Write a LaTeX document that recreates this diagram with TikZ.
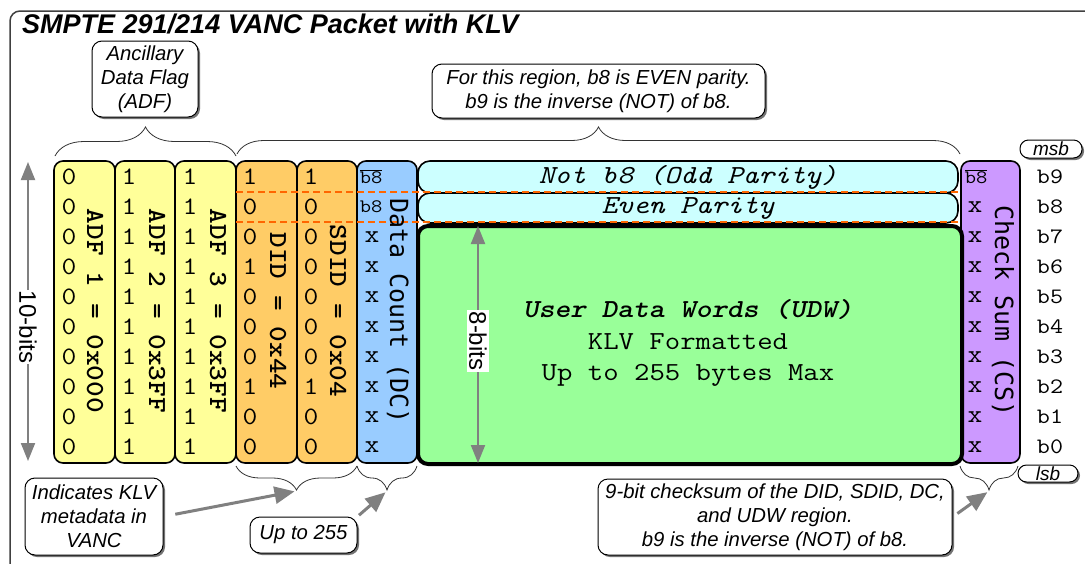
\documentclass[tikz,border=0pt]{standalone}
\usepackage{fontspec}
\setmainfont{Liberation Sans}
\newfontfamily\dvmono{DejaVu Sans Mono}
\usetikzlibrary{arrows.meta,decorations.pathreplacing,shadows}
\definecolor{cyel}{HTML}{FFFF99}
\definecolor{corg}{HTML}{FFCC66}
\definecolor{cblu}{HTML}{99CCFF}
\definecolor{ccyn}{HTML}{CCFFFF}
\definecolor{cgrn}{HTML}{99FF99}
\definecolor{cpur}{HTML}{CC99FF}
\definecolor{cdash}{HTML}{FF6600}
\definecolor{carr}{HTML}{808080}
\newcommand\ovl[1]{$\overline{\hbox{#1}}$}
\newcommand\cw[1]{\scalebox{1.15}[1]{#1}}
\begin{document}
\begin{tikzpicture}[x=1pt,y=-1pt,
  colbox/.style={draw=black,line width=1.6pt,rounded corners=9pt,minimum height=302pt,inner sep=0pt},
  barbox/.style={draw=black,line width=1.6pt,fill=ccyn,rounded corners=12pt,minimum width=540pt,inner sep=0pt},
  bit/.style={inner sep=0pt,font=\ttfamily\fontsize{25}{25}\selectfont},
  sbit/.style={inner sep=0pt,font=\ttfamily\fontsize{19}{19}\selectfont},
  collabel/.style={inner sep=0pt,rotate=-90,font=\ttfamily\bfseries\fontsize{26}{26}\selectfont},
  sanslabel/.style={inner sep=0pt,rotate=-90,font=\dvmono\fontsize{25}{25}\selectfont},
  callout/.style={draw=black,line width=1pt,fill=white,rounded corners=10pt,align=center,inner sep=0pt,
    font=\itshape\fontsize{20.3}{24}\selectfont,
    drop shadow={shadow xshift=2pt,shadow yshift=-2pt,fill=black!55,opacity=1}},
  pill/.style={draw=black,line width=1pt,fill=white,rounded corners=8.5pt,inner sep=0pt,
    font=\itshape\fontsize{19}{19}\selectfont,
    drop shadow={shadow xshift=2pt,shadow yshift=-2pt,fill=black!55,opacity=1}},
  bracel/.style={draw=black!80,line width=0.8pt,decorate},
  garrow/.style={draw=carr,line width=3pt,-{Triangle[length=20pt,width=17pt]}},
  gline/.style={draw=carr,line width=2pt,{Triangle[length=18pt,width=14pt]}-{Triangle[length=18pt,width=14pt]}},
  odash/.style={draw=cdash,line width=2pt,dash pattern=on 7pt off 4pt},
  mtext/.style={inner sep=0pt,font=\ttfamily\fontsize{26}{26}\selectfont}
]
\useasboundingbox (0,0) rectangle (1085,563);
\fill[white] (0,0) rectangle (1085,563);
\begin{scope}
\clip (0,0) rectangle (1085,563);
\draw[line width=1.5pt,draw=black!75,rounded corners=10pt] (10,11) rectangle (1110,580);
\end{scope}

% title
\node[anchor=west,inner sep=0pt,font=\bfseries\itshape\fontsize{27}{30}\selectfont] (title) at (22,24) {SMPTE 291/214 VANC Packet with KLV};

% columns
\node[colbox,fill=cyel,minimum width=61pt] (adf1) at (84.5,312) {};
\node[colbox,fill=cyel,minimum width=60pt] (adf2) at (145,312) {};
\node[colbox,fill=cyel,minimum width=61pt] (adf3) at (205.5,312) {};
\node[colbox,fill=corg,minimum width=61pt] (did) at (266.5,312) {};
\node[colbox,fill=corg,minimum width=60pt] (sdid) at (327,312) {};
\node[colbox,fill=cblu,minimum width=60pt] (dc) at (387,312) {};
\node[colbox,fill=cpur,minimum width=59pt] (cs) at (990.5,312) {};

% UDW area
\node[draw=black,line width=4pt,fill=cgrn,rounded corners=10pt,minimum width=544pt,minimum height=238pt,inner sep=0pt] (udw) at (690,345) {};
\node[barbox,minimum height=32pt] (notb8) at (688,177) {};
\node[barbox,minimum height=30pt] (even) at (688,208) {};
\node[mtext,font=\ttfamily\itshape\fontsize{26}{26}\selectfont] (notb8t) at (688,177) {\cw{Not b8 (Odd Parity)}};
\node[mtext,font=\ttfamily\itshape\fontsize{26}{26}\selectfont] (event) at (688,208) {\cw{Even Parity}};

% dashed parity lines
\coordinate (d1a) at (236,192);
\coordinate (d1b) at (960,192);
\coordinate (d2a) at (236,222);
\coordinate (d2b) at (960,222);
\draw[odash] (d1a) -- (d1b);
\draw[odash] (d2a) -- (d2b);

% bits
\foreach \v [count=\i from 0] in {0,0,0,0,0,0,0,0,0,0}
  \node[bit] (ba\i) at (69,{177+30*\i}) {\cw{\v}};
\foreach \v [count=\i from 0] in {1,1,1,1,1,1,1,1,1,1}
  \node[bit] (bb\i) at (129,{177+30*\i}) {\cw{\v}};
\foreach \v [count=\i from 0] in {1,1,1,1,1,1,1,1,1,1}
  \node[bit] (bc\i) at (190,{177+30*\i}) {\cw{\v}};
\foreach \v [count=\i from 0] in {1,0,0,1,0,0,0,1,0,0}
  \node[bit] (bd\i) at (250,{177+30*\i}) {\cw{\v}};
\foreach \v [count=\i from 0] in {1,0,0,0,0,0,0,1,0,0}
  \node[bit] (be\i) at (311,{177+30*\i}) {\cw{\v}};
\node[sbit] (bf0) at (371,177) {\cw{\ovl{b8}}};
\node[sbit] (bf1) at (371,207) {\cw{b8}};
\foreach \i in {2,...,9}
  \node[bit] (bf\i) at (372,{177+30*\i}) {\cw{x}};
\node[sbit] (bg0) at (976,177) {\cw{\ovl{b8}}};
\foreach \i in {1,...,9}
  \node[bit] (bg\i) at (975,{177+30*\i}) {\cw{x}};

% column labels
\node[collabel] (l1) at (95,311) {\cw{ADF 1 = 0x000}};
\node[collabel] (l2) at (157,311) {\cw{ADF 2 = 0x3FF}};
\node[collabel] (l3) at (218,311) {\cw{ADF 3 = 0x3FF}};
\node[collabel] (l4) at (278,311) {\cw{DID = 0x44}};
\node[collabel] (l5) at (338,311) {\cw{SDID = 0x04}};
\node[sanslabel] (l6) at (398,311) {Data Count (DC)};
\node[sanslabel] (l7) at (1003,311) {Check Sum (CS)};

% UDW text
\node[mtext,font=\ttfamily\bfseries\itshape\fontsize{26}{26}\selectfont] (u1) at (688,310) {\cw{User Data Words (UDW)}};
\node[mtext] (u2) at (688,342) {\cw{KLV Formatted}};
\node[mtext] (u3) at (688,375) {\cw{Up to 255 bytes Max}};

% 8-bits arrow
\coordinate (e8t) at (478,226);
\coordinate (e8b) at (478,463);
\draw[gline] (e8t) -- (e8b);
\node[fill=white,inner sep=2pt,rotate=-90,font=\fontsize{24}{24}\selectfont] (l8) at (478,341) {8-bits};

% 10-bits arrow
\coordinate (t10) at (28,162);
\coordinate (b10) at (28,461);
\draw[gline] (t10) -- (b10);
\node[fill=white,inner sep=1pt,rotate=-90,font=\fontsize{24}{24}\selectfont] (l10) at (28,327) {10-bits};

% bit index labels
\foreach \n [count=\i from 0] in {9,8,7,6,5,4,3,2,1,0}
  \node[bit,font=\ttfamily\fontsize{22}{22}\selectfont] (bi\i) at (1050,{177+30*\i}) {\cw{b\n}};
\node[pill,minimum width=62pt,minimum height=18pt] (msb) at (1051,149) {msb};
\node[pill,minimum width=60pt,minimum height=17pt] (lsb) at (1048,473.5) {lsb};

% braces
\coordinate (ba1) at (55,156);
\coordinate (ba2) at (236,156);
\coordinate (bb1) at (237,154);
\coordinate (bb2) at (960,154);
\draw[bracel,decoration={brace,amplitude=29pt}] (ba1) -- (ba2);
\draw[bracel,decoration={brace,amplitude=27pt}] (bb1) -- (bb2);
\coordinate (bc1) at (357,466);
\coordinate (bc2) at (236,466);
\coordinate (bd1) at (417,466);
\coordinate (bd2) at (357,466);
\coordinate (be1) at (1018,466);
\coordinate (be2) at (960,466);
\draw[bracel,decoration={brace,amplitude=24pt}] (bc1) -- (bc2);
\draw[bracel,decoration={brace,amplitude=24pt}] (bd1) -- (bd2);
\draw[bracel,decoration={brace,amplitude=24pt}] (be1) -- (be2);
\coordinate (tipdid) at (296.5,491);
\coordinate (tipdc) at (387,491);
\coordinate (tipcs) at (989,491);

% callouts
\node[callout,minimum width=106pt,minimum height=76pt] (adfbox) at (145,79) {Ancillary\\Data Flag\\(ADF)};
\node[callout,minimum width=333pt,minimum height=54pt] (regbox) at (598.5,91) {For this region, b8 is EVEN parity.\\b9 is the inverse (NOT) of b8.};
\node[callout,minimum width=138pt,minimum height=77pt] (klvbox) at (94,516.5) {Indicates KLV\\metadata in\\VANC};
\node[callout,minimum width=107pt,minimum height=36pt] (upbox) at (303.5,535) {Up to 255};
\node[callout,minimum width=354pt,minimum height=76pt] (csbox) at (775,517) {9-bit checksum of the DID, SDID, DC,\\and UDW region.\\b9 is the inverse (NOT) of b8.};

% arrows
\draw[garrow,shorten <=12pt,shorten >=2pt] (klvbox.east) -- (tipdid);
\draw[garrow,shorten <=2pt,shorten >=2pt] (upbox.north east) -- (tipdc);
\draw[garrow,shorten <=6pt,shorten >=2pt] (csbox.east) -- (tipcs);
\end{tikzpicture}
\end{document}
